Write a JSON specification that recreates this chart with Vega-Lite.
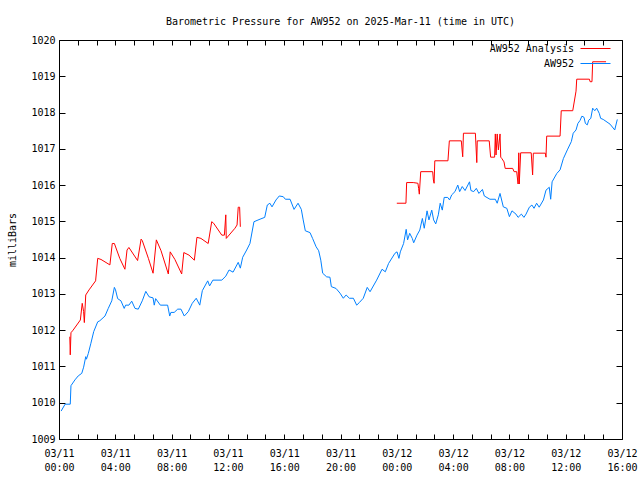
{
  "$schema": "https://vega.github.io/schema/vega-lite/v6.json",
  "width": 563,
  "height": 399,
  "autosize": {"type": "none"},
  "padding": {"left": 59, "top": 40, "right": 18, "bottom": 41},
  "background": "white",
  "title": {"text": "Barometric Pressure for AW952 on 2025-Mar-11 (time in UTC)", "anchor": "middle", "font": "DejaVu Sans Mono", "fontSize": 10, "fontWeight": "normal", "offset": 8, "color": "black"},
  "config": {
    "font": "DejaVu Sans Mono",
    "view": {"stroke": "black", "strokeWidth": 1},
    "axis": {"grid": false, "domain": false, "ticks": true, "zindex": 1, "tickColor": "#000000", "tickWidth": 1, "tickOpacity": 1, "labelColor": "black", "titleColor": "black", "labelFont": "DejaVu Sans Mono", "labelFontSize": 10, "titleFont": "DejaVu Sans Mono", "titleFontSize": 10, "titleFontWeight": "normal"}
  },
  "data": {"values": [
    {"s":"AW952","p":"b","t":"2025-03-11T00:09:00Z","v":1009.77},
    {"s":"AW952","p":"b","t":"2025-03-11T00:26:00Z","v":1009.96},
    {"s":"AW952","p":"b","t":"2025-03-11T00:48:00Z","v":1009.96},
    {"s":"AW952","p":"b","t":"2025-03-11T00:51:00Z","v":1010.47},
    {"s":"AW952","p":"b","t":"2025-03-11T01:08:00Z","v":1010.63},
    {"s":"AW952","p":"b","t":"2025-03-11T01:22:00Z","v":1010.74},
    {"s":"AW952","p":"b","t":"2025-03-11T01:37:00Z","v":1010.81},
    {"s":"AW952","p":"b","t":"2025-03-11T01:45:00Z","v":1010.98},
    {"s":"AW952","p":"b","t":"2025-03-11T01:54:00Z","v":1011.27},
    {"s":"AW952","p":"b","t":"2025-03-11T01:57:00Z","v":1011.20},
    {"s":"AW952","p":"b","t":"2025-03-11T02:05:00Z","v":1011.36},
    {"s":"AW952","p":"b","t":"2025-03-11T02:16:00Z","v":1011.64},
    {"s":"AW952","p":"b","t":"2025-03-11T02:28:00Z","v":1011.96},
    {"s":"AW952","p":"b","t":"2025-03-11T02:45:00Z","v":1012.23},
    {"s":"AW952","p":"b","t":"2025-03-11T02:54:00Z","v":1012.26},
    {"s":"AW952","p":"b","t":"2025-03-11T03:16:00Z","v":1012.39},
    {"s":"AW952","p":"b","t":"2025-03-11T03:30:00Z","v":1012.60},
    {"s":"AW952","p":"b","t":"2025-03-11T03:45:00Z","v":1012.81},
    {"s":"AW952","p":"b","t":"2025-03-11T03:56:00Z","v":1013.18},
    {"s":"AW952","p":"b","t":"2025-03-11T04:01:00Z","v":1013.11},
    {"s":"AW952","p":"b","t":"2025-03-11T04:10:00Z","v":1012.87},
    {"s":"AW952","p":"b","t":"2025-03-11T04:24:00Z","v":1012.81},
    {"s":"AW952","p":"b","t":"2025-03-11T04:38:00Z","v":1012.60},
    {"s":"AW952","p":"b","t":"2025-03-11T04:44:00Z","v":1012.69},
    {"s":"AW952","p":"b","t":"2025-03-11T04:58:00Z","v":1012.69},
    {"s":"AW952","p":"b","t":"2025-03-11T05:10:00Z","v":1012.80},
    {"s":"AW952","p":"b","t":"2025-03-11T05:24:00Z","v":1012.60},
    {"s":"AW952","p":"b","t":"2025-03-11T05:38:00Z","v":1012.58},
    {"s":"AW952","p":"b","t":"2025-03-11T05:55:00Z","v":1012.81},
    {"s":"AW952","p":"b","t":"2025-03-11T06:10:00Z","v":1013.07},
    {"s":"AW952","p":"b","t":"2025-03-11T06:24:00Z","v":1012.92},
    {"s":"AW952","p":"b","t":"2025-03-11T06:41:00Z","v":1012.89},
    {"s":"AW952","p":"b","t":"2025-03-11T06:46:00Z","v":1012.69},
    {"s":"AW952","p":"b","t":"2025-03-11T06:52:00Z","v":1012.87},
    {"s":"AW952","p":"b","t":"2025-03-11T07:12:00Z","v":1012.69},
    {"s":"AW952","p":"b","t":"2025-03-11T07:43:00Z","v":1012.69},
    {"s":"AW952","p":"b","t":"2025-03-11T07:52:00Z","v":1012.39},
    {"s":"AW952","p":"b","t":"2025-03-11T07:57:00Z","v":1012.49},
    {"s":"AW952","p":"b","t":"2025-03-11T08:11:00Z","v":1012.49},
    {"s":"AW952","p":"b","t":"2025-03-11T08:26:00Z","v":1012.58},
    {"s":"AW952","p":"b","t":"2025-03-11T08:40:00Z","v":1012.58},
    {"s":"AW952","p":"b","t":"2025-03-11T08:54:00Z","v":1012.39},
    {"s":"AW952","p":"b","t":"2025-03-11T09:11:00Z","v":1012.51},
    {"s":"AW952","p":"b","t":"2025-03-11T09:28:00Z","v":1012.74},
    {"s":"AW952","p":"b","t":"2025-03-11T09:45:00Z","v":1012.88},
    {"s":"AW952","p":"b","t":"2025-03-11T10:00:00Z","v":1012.69},
    {"s":"AW952","p":"b","t":"2025-03-11T10:11:00Z","v":1013.09},
    {"s":"AW952","p":"b","t":"2025-03-11T10:34:00Z","v":1013.36},
    {"s":"AW952","p":"b","t":"2025-03-11T10:42:00Z","v":1013.22},
    {"s":"AW952","p":"b","t":"2025-03-11T10:56:00Z","v":1013.38},
    {"s":"AW952","p":"b","t":"2025-03-11T11:34:00Z","v":1013.38},
    {"s":"AW952","p":"b","t":"2025-03-11T11:51:00Z","v":1013.49},
    {"s":"AW952","p":"b","t":"2025-03-11T12:05:00Z","v":1013.66},
    {"s":"AW952","p":"b","t":"2025-03-11T12:22:00Z","v":1013.60},
    {"s":"AW952","p":"b","t":"2025-03-11T12:44:00Z","v":1013.87},
    {"s":"AW952","p":"b","t":"2025-03-11T12:53:00Z","v":1013.71},
    {"s":"AW952","p":"b","t":"2025-03-11T13:03:00Z","v":1014.01},
    {"s":"AW952","p":"b","t":"2025-03-11T13:20:00Z","v":1014.21},
    {"s":"AW952","p":"b","t":"2025-03-11T13:34:00Z","v":1014.39},
    {"s":"AW952","p":"b","t":"2025-03-11T13:51:00Z","v":1014.99},
    {"s":"AW952","p":"b","t":"2025-03-11T14:17:00Z","v":1015.06},
    {"s":"AW952","p":"b","t":"2025-03-11T14:37:00Z","v":1015.11},
    {"s":"AW952","p":"b","t":"2025-03-11T14:48:00Z","v":1015.45},
    {"s":"AW952","p":"b","t":"2025-03-11T14:59:00Z","v":1015.50},
    {"s":"AW952","p":"b","t":"2025-03-11T15:08:00Z","v":1015.40},
    {"s":"AW952","p":"b","t":"2025-03-11T15:25:00Z","v":1015.59},
    {"s":"AW952","p":"b","t":"2025-03-11T15:39:00Z","v":1015.70},
    {"s":"AW952","p":"b","t":"2025-03-11T15:56:00Z","v":1015.68},
    {"s":"AW952","p":"b","t":"2025-03-11T16:05:00Z","v":1015.61},
    {"s":"AW952","p":"b","t":"2025-03-11T16:25:00Z","v":1015.61},
    {"s":"AW952","p":"b","t":"2025-03-11T16:42:00Z","v":1015.33},
    {"s":"AW952","p":"b","t":"2025-03-11T16:59:00Z","v":1015.50},
    {"s":"AW952","p":"b","t":"2025-03-11T17:13:00Z","v":1015.33},
    {"s":"AW952","p":"b","t":"2025-03-11T17:21:00Z","v":1015.04},
    {"s":"AW952","p":"b","t":"2025-03-11T17:30:00Z","v":1014.74},
    {"s":"AW952","p":"b","t":"2025-03-11T17:50:00Z","v":1014.69},
    {"s":"AW952","p":"b","t":"2025-03-11T18:01:00Z","v":1014.53},
    {"s":"AW952","p":"b","t":"2025-03-11T18:16:00Z","v":1014.30},
    {"s":"AW952","p":"b","t":"2025-03-11T18:27:00Z","v":1014.19},
    {"s":"AW952","p":"b","t":"2025-03-11T18:36:00Z","v":1013.93},
    {"s":"AW952","p":"b","t":"2025-03-11T18:44:00Z","v":1013.57},
    {"s":"AW952","p":"b","t":"2025-03-11T19:01:00Z","v":1013.47},
    {"s":"AW952","p":"b","t":"2025-03-11T19:15:00Z","v":1013.46},
    {"s":"AW952","p":"b","t":"2025-03-11T19:21:00Z","v":1013.20},
    {"s":"AW952","p":"b","t":"2025-03-11T19:41:00Z","v":1013.15},
    {"s":"AW952","p":"b","t":"2025-03-11T19:58:00Z","v":1013.02},
    {"s":"AW952","p":"b","t":"2025-03-11T20:12:00Z","v":1012.88},
    {"s":"AW952","p":"b","t":"2025-03-11T20:24:00Z","v":1012.97},
    {"s":"AW952","p":"b","t":"2025-03-11T20:38:00Z","v":1012.88},
    {"s":"AW952","p":"b","t":"2025-03-11T20:55:00Z","v":1012.88},
    {"s":"AW952","p":"b","t":"2025-03-11T21:09:00Z","v":1012.69},
    {"s":"AW952","p":"b","t":"2025-03-11T21:20:00Z","v":1012.76},
    {"s":"AW952","p":"b","t":"2025-03-11T21:37:00Z","v":1012.88},
    {"s":"AW952","p":"b","t":"2025-03-11T21:54:00Z","v":1013.18},
    {"s":"AW952","p":"b","t":"2025-03-11T22:06:00Z","v":1013.06},
    {"s":"AW952","p":"b","t":"2025-03-11T22:34:00Z","v":1013.38},
    {"s":"AW952","p":"b","t":"2025-03-11T22:57:00Z","v":1013.68},
    {"s":"AW952","p":"b","t":"2025-03-11T23:11:00Z","v":1013.61},
    {"s":"AW952","p":"b","t":"2025-03-11T23:25:00Z","v":1013.84},
    {"s":"AW952","p":"b","t":"2025-03-11T23:52:00Z","v":1014.12},
    {"s":"AW952","p":"b","t":"2025-03-12T00:01:00Z","v":1014.16},
    {"s":"AW952","p":"b","t":"2025-03-12T00:09:00Z","v":1013.98},
    {"s":"AW952","p":"b","t":"2025-03-12T00:15:00Z","v":1014.16},
    {"s":"AW952","p":"b","t":"2025-03-12T00:29:00Z","v":1014.39},
    {"s":"AW952","p":"b","t":"2025-03-12T00:40:00Z","v":1014.78},
    {"s":"AW952","p":"b","t":"2025-03-12T00:46:00Z","v":1014.49},
    {"s":"AW952","p":"b","t":"2025-03-12T00:55:00Z","v":1014.67},
    {"s":"AW952","p":"b","t":"2025-03-12T01:06:00Z","v":1014.53},
    {"s":"AW952","p":"b","t":"2025-03-12T01:12:00Z","v":1014.41},
    {"s":"AW952","p":"b","t":"2025-03-12T01:26:00Z","v":1014.62},
    {"s":"AW952","p":"b","t":"2025-03-12T01:38:00Z","v":1014.76},
    {"s":"AW952","p":"b","t":"2025-03-12T01:49:00Z","v":1015.08},
    {"s":"AW952","p":"b","t":"2025-03-12T01:57:00Z","v":1014.81},
    {"s":"AW952","p":"b","t":"2025-03-12T02:09:00Z","v":1015.29},
    {"s":"AW952","p":"b","t":"2025-03-12T02:17:00Z","v":1015.04},
    {"s":"AW952","p":"b","t":"2025-03-12T02:29:00Z","v":1015.31},
    {"s":"AW952","p":"b","t":"2025-03-12T02:37:00Z","v":1015.04},
    {"s":"AW952","p":"b","t":"2025-03-12T02:46:00Z","v":1014.93},
    {"s":"AW952","p":"b","t":"2025-03-12T02:57:00Z","v":1015.18},
    {"s":"AW952","p":"b","t":"2025-03-12T03:05:00Z","v":1015.50},
    {"s":"AW952","p":"b","t":"2025-03-12T03:14:00Z","v":1015.31},
    {"s":"AW952","p":"b","t":"2025-03-12T03:22:00Z","v":1015.66},
    {"s":"AW952","p":"b","t":"2025-03-12T03:37:00Z","v":1015.66},
    {"s":"AW952","p":"b","t":"2025-03-12T03:45:00Z","v":1015.59},
    {"s":"AW952","p":"b","t":"2025-03-12T03:54:00Z","v":1015.73},
    {"s":"AW952","p":"b","t":"2025-03-12T04:08:00Z","v":1015.82},
    {"s":"AW952","p":"b","t":"2025-03-12T04:20:00Z","v":1016.00},
    {"s":"AW952","p":"b","t":"2025-03-12T04:28:00Z","v":1015.82},
    {"s":"AW952","p":"b","t":"2025-03-12T04:39:00Z","v":1015.96},
    {"s":"AW952","p":"b","t":"2025-03-12T04:51:00Z","v":1015.85},
    {"s":"AW952","p":"b","t":"2025-03-12T05:10:00Z","v":1016.09},
    {"s":"AW952","p":"b","t":"2025-03-12T05:16:00Z","v":1015.85},
    {"s":"AW952","p":"b","t":"2025-03-12T05:28:00Z","v":1015.82},
    {"s":"AW952","p":"b","t":"2025-03-12T05:39:00Z","v":1015.91},
    {"s":"AW952","p":"b","t":"2025-03-12T05:50:00Z","v":1015.77},
    {"s":"AW952","p":"b","t":"2025-03-12T06:05:00Z","v":1015.88},
    {"s":"AW952","p":"b","t":"2025-03-12T06:13:00Z","v":1015.70},
    {"s":"AW952","p":"b","t":"2025-03-12T06:37:00Z","v":1015.61},
    {"s":"AW952","p":"b","t":"2025-03-12T07:00:00Z","v":1015.61},
    {"s":"AW952","p":"b","t":"2025-03-12T07:08:00Z","v":1015.50},
    {"s":"AW952","p":"b","t":"2025-03-12T07:20:00Z","v":1015.77},
    {"s":"AW952","p":"b","t":"2025-03-12T07:34:00Z","v":1015.40},
    {"s":"AW952","p":"b","t":"2025-03-12T07:49:00Z","v":1015.36},
    {"s":"AW952","p":"b","t":"2025-03-12T08:00:00Z","v":1015.13},
    {"s":"AW952","p":"b","t":"2025-03-12T08:11:00Z","v":1015.29},
    {"s":"AW952","p":"b","t":"2025-03-12T08:28:00Z","v":1015.20},
    {"s":"AW952","p":"b","t":"2025-03-12T08:37:00Z","v":1015.11},
    {"s":"AW952","p":"b","t":"2025-03-12T08:51:00Z","v":1015.20},
    {"s":"AW952","p":"b","t":"2025-03-12T09:02:00Z","v":1015.11},
    {"s":"AW952","p":"b","t":"2025-03-12T09:11:00Z","v":1015.20},
    {"s":"AW952","p":"b","t":"2025-03-12T09:25:00Z","v":1015.39},
    {"s":"AW952","p":"b","t":"2025-03-12T09:36:00Z","v":1015.45},
    {"s":"AW952","p":"b","t":"2025-03-12T09:45:00Z","v":1015.36},
    {"s":"AW952","p":"b","t":"2025-03-12T09:56:00Z","v":1015.50},
    {"s":"AW952","p":"b","t":"2025-03-12T10:07:00Z","v":1015.39},
    {"s":"AW952","p":"b","t":"2025-03-12T10:25:00Z","v":1015.59},
    {"s":"AW952","p":"b","t":"2025-03-12T10:36:00Z","v":1015.86},
    {"s":"AW952","p":"b","t":"2025-03-12T10:50:00Z","v":1015.94},
    {"s":"AW952","p":"b","t":"2025-03-12T10:56:00Z","v":1015.61},
    {"s":"AW952","p":"b","t":"2025-03-12T11:02:00Z","v":1016.09},
    {"s":"AW952","p":"b","t":"2025-03-12T11:22:00Z","v":1016.32},
    {"s":"AW952","p":"b","t":"2025-03-12T11:36:00Z","v":1016.42},
    {"s":"AW952","p":"b","t":"2025-03-12T11:50:00Z","v":1016.73},
    {"s":"AW952","p":"b","t":"2025-03-12T12:07:00Z","v":1016.97},
    {"s":"AW952","p":"b","t":"2025-03-12T12:24:00Z","v":1017.20},
    {"s":"AW952","p":"b","t":"2025-03-12T12:32:00Z","v":1017.43},
    {"s":"AW952","p":"b","t":"2025-03-12T12:44:00Z","v":1017.52},
    {"s":"AW952","p":"b","t":"2025-03-12T12:52:00Z","v":1017.70},
    {"s":"AW952","p":"b","t":"2025-03-12T13:01:00Z","v":1017.78},
    {"s":"AW952","p":"b","t":"2025-03-12T13:09:00Z","v":1017.90},
    {"s":"AW952","p":"b","t":"2025-03-12T13:18:00Z","v":1017.87},
    {"s":"AW952","p":"b","t":"2025-03-12T13:24:00Z","v":1017.70},
    {"s":"AW952","p":"b","t":"2025-03-12T13:32:00Z","v":1017.66},
    {"s":"AW952","p":"b","t":"2025-03-12T13:38:00Z","v":1017.79},
    {"s":"AW952","p":"b","t":"2025-03-12T13:47:00Z","v":1017.84},
    {"s":"AW952","p":"b","t":"2025-03-12T13:55:00Z","v":1018.12},
    {"s":"AW952","p":"b","t":"2025-03-12T14:04:00Z","v":1018.05},
    {"s":"AW952","p":"b","t":"2025-03-12T14:12:00Z","v":1018.12},
    {"s":"AW952","p":"b","t":"2025-03-12T14:23:00Z","v":1017.98},
    {"s":"AW952","p":"b","t":"2025-03-12T14:29:00Z","v":1017.84},
    {"s":"AW952","p":"b","t":"2025-03-12T14:40:00Z","v":1017.81},
    {"s":"AW952","p":"b","t":"2025-03-12T15:09:00Z","v":1017.68},
    {"s":"AW952","p":"b","t":"2025-03-12T15:29:00Z","v":1017.52},
    {"s":"AW952","p":"b","t":"2025-03-12T15:40:00Z","v":1017.81},
    {"s":"AW952 Analysis","p":"r1","t":"2025-03-11T00:46:00Z","v":1011.82},
    {"s":"AW952 Analysis","p":"r1","t":"2025-03-11T00:47:00Z","v":1011.59},
    {"s":"AW952 Analysis","p":"r1","t":"2025-03-11T00:48:00Z","v":1011.32},
    {"s":"AW952 Analysis","p":"r1","t":"2025-03-11T00:51:00Z","v":1011.93},
    {"s":"AW952 Analysis","p":"r1","t":"2025-03-11T01:00:00Z","v":1012.00},
    {"s":"AW952 Analysis","p":"r1","t":"2025-03-11T01:31:00Z","v":1012.28},
    {"s":"AW952 Analysis","p":"r1","t":"2025-03-11T01:39:00Z","v":1012.74},
    {"s":"AW952 Analysis","p":"r1","t":"2025-03-11T01:45:00Z","v":1012.51},
    {"s":"AW952 Analysis","p":"r1","t":"2025-03-11T01:48:00Z","v":1012.21},
    {"s":"AW952 Analysis","p":"r1","t":"2025-03-11T01:54:00Z","v":1012.97},
    {"s":"AW952 Analysis","p":"r1","t":"2025-03-11T02:08:00Z","v":1013.11},
    {"s":"AW952 Analysis","p":"r1","t":"2025-03-11T02:36:00Z","v":1013.36},
    {"s":"AW952 Analysis","p":"r1","t":"2025-03-11T02:45:00Z","v":1013.98},
    {"s":"AW952 Analysis","p":"r1","t":"2025-03-11T02:59:00Z","v":1013.95},
    {"s":"AW952 Analysis","p":"r1","t":"2025-03-11T03:37:00Z","v":1013.80},
    {"s":"AW952 Analysis","p":"r1","t":"2025-03-11T03:47:00Z","v":1014.39},
    {"s":"AW952 Analysis","p":"r1","t":"2025-03-11T03:56:00Z","v":1014.39},
    {"s":"AW952 Analysis","p":"r1","t":"2025-03-11T04:19:00Z","v":1013.98},
    {"s":"AW952 Analysis","p":"r1","t":"2025-03-11T04:41:00Z","v":1013.68},
    {"s":"AW952 Analysis","p":"r1","t":"2025-03-11T04:50:00Z","v":1014.21},
    {"s":"AW952 Analysis","p":"r1","t":"2025-03-11T04:58:00Z","v":1014.28},
    {"s":"AW952 Analysis","p":"r1","t":"2025-03-11T05:35:00Z","v":1013.92},
    {"s":"AW952 Analysis","p":"r1","t":"2025-03-11T05:50:00Z","v":1014.51},
    {"s":"AW952 Analysis","p":"r1","t":"2025-03-11T05:55:00Z","v":1014.47},
    {"s":"AW952 Analysis","p":"r1","t":"2025-03-11T06:21:00Z","v":1013.98},
    {"s":"AW952 Analysis","p":"r1","t":"2025-03-11T06:41:00Z","v":1013.57},
    {"s":"AW952 Analysis","p":"r1","t":"2025-03-11T06:55:00Z","v":1014.49},
    {"s":"AW952 Analysis","p":"r1","t":"2025-03-11T07:15:00Z","v":1014.19},
    {"s":"AW952 Analysis","p":"r1","t":"2025-03-11T07:46:00Z","v":1013.55},
    {"s":"AW952 Analysis","p":"r1","t":"2025-03-11T07:54:00Z","v":1014.16},
    {"s":"AW952 Analysis","p":"r1","t":"2025-03-11T08:14:00Z","v":1013.95},
    {"s":"AW952 Analysis","p":"r1","t":"2025-03-11T08:43:00Z","v":1013.55},
    {"s":"AW952 Analysis","p":"r1","t":"2025-03-11T08:52:00Z","v":1014.14},
    {"s":"AW952 Analysis","p":"r1","t":"2025-03-11T09:14:00Z","v":1014.07},
    {"s":"AW952 Analysis","p":"r1","t":"2025-03-11T09:37:00Z","v":1013.93},
    {"s":"AW952 Analysis","p":"r1","t":"2025-03-11T09:48:00Z","v":1014.56},
    {"s":"AW952 Analysis","p":"r1","t":"2025-03-11T10:05:00Z","v":1014.53},
    {"s":"AW952 Analysis","p":"r1","t":"2025-03-11T10:36:00Z","v":1014.39},
    {"s":"AW952 Analysis","p":"r1","t":"2025-03-11T10:51:00Z","v":1014.99},
    {"s":"AW952 Analysis","p":"r1","t":"2025-03-11T10:59:00Z","v":1014.95},
    {"s":"AW952 Analysis","p":"r1","t":"2025-03-11T11:34:00Z","v":1014.62},
    {"s":"AW952 Analysis","p":"r1","t":"2025-03-11T11:45:00Z","v":1014.62},
    {"s":"AW952 Analysis","p":"r1","t":"2025-03-11T11:51:00Z","v":1015.18},
    {"s":"AW952 Analysis","p":"r1","t":"2025-03-11T11:53:00Z","v":1014.53},
    {"s":"AW952 Analysis","p":"r1","t":"2025-03-11T12:30:00Z","v":1014.81},
    {"s":"AW952 Analysis","p":"r1","t":"2025-03-11T12:39:00Z","v":1014.90},
    {"s":"AW952 Analysis","p":"r1","t":"2025-03-11T12:44:00Z","v":1015.39},
    {"s":"AW952 Analysis","p":"r1","t":"2025-03-11T12:50:00Z","v":1015.39},
    {"s":"AW952 Analysis","p":"r1","t":"2025-03-11T12:53:00Z","v":1014.85},
    {"s":"AW952 Analysis","p":"r2","t":"2025-03-12T00:00:00Z","v":1015.50},
    {"s":"AW952 Analysis","p":"r2","t":"2025-03-12T00:39:00Z","v":1015.50},
    {"s":"AW952 Analysis","p":"r2","t":"2025-03-12T00:42:00Z","v":1016.07},
    {"s":"AW952 Analysis","p":"r2","t":"2025-03-12T01:10:00Z","v":1016.07},
    {"s":"AW952 Analysis","p":"r2","t":"2025-03-12T01:30:00Z","v":1016.05},
    {"s":"AW952 Analysis","p":"r2","t":"2025-03-12T01:33:00Z","v":1015.91},
    {"s":"AW952 Analysis","p":"r2","t":"2025-03-12T01:36:00Z","v":1015.75},
    {"s":"AW952 Analysis","p":"r2","t":"2025-03-12T01:42:00Z","v":1016.37},
    {"s":"AW952 Analysis","p":"r2","t":"2025-03-12T02:33:00Z","v":1016.37},
    {"s":"AW952 Analysis","p":"r2","t":"2025-03-12T02:36:00Z","v":1016.14},
    {"s":"AW952 Analysis","p":"r2","t":"2025-03-12T02:39:00Z","v":1016.05},
    {"s":"AW952 Analysis","p":"r2","t":"2025-03-12T02:42:00Z","v":1016.67},
    {"s":"AW952 Analysis","p":"r2","t":"2025-03-12T03:38:00Z","v":1016.67},
    {"s":"AW952 Analysis","p":"r2","t":"2025-03-12T03:44:00Z","v":1017.22},
    {"s":"AW952 Analysis","p":"r2","t":"2025-03-12T04:35:00Z","v":1017.22},
    {"s":"AW952 Analysis","p":"r2","t":"2025-03-12T04:41:00Z","v":1016.78},
    {"s":"AW952 Analysis","p":"r2","t":"2025-03-12T04:44:00Z","v":1017.43},
    {"s":"AW952 Analysis","p":"r2","t":"2025-03-12T05:35:00Z","v":1017.43},
    {"s":"AW952 Analysis","p":"r2","t":"2025-03-12T05:41:00Z","v":1016.62},
    {"s":"AW952 Analysis","p":"r2","t":"2025-03-12T05:43:00Z","v":1017.22},
    {"s":"AW952 Analysis","p":"r2","t":"2025-03-12T06:34:00Z","v":1017.22},
    {"s":"AW952 Analysis","p":"r2","t":"2025-03-12T06:40:00Z","v":1016.77},
    {"s":"AW952 Analysis","p":"r2","t":"2025-03-12T06:57:00Z","v":1016.77},
    {"s":"AW952 Analysis","p":"r2","t":"2025-03-12T07:00:00Z","v":1017.41},
    {"s":"AW952 Analysis","p":"r2","t":"2025-03-12T07:03:00Z","v":1016.83},
    {"s":"AW952 Analysis","p":"r2","t":"2025-03-12T07:08:00Z","v":1017.41},
    {"s":"AW952 Analysis","p":"r2","t":"2025-03-12T07:13:00Z","v":1016.97},
    {"s":"AW952 Analysis","p":"r2","t":"2025-03-12T07:20:00Z","v":1017.41},
    {"s":"AW952 Analysis","p":"r2","t":"2025-03-12T07:23:00Z","v":1016.77},
    {"s":"AW952 Analysis","p":"r2","t":"2025-03-12T07:28:00Z","v":1016.73},
    {"s":"AW952 Analysis","p":"r2","t":"2025-03-12T07:37:00Z","v":1016.64},
    {"s":"AW952 Analysis","p":"r2","t":"2025-03-12T07:42:00Z","v":1016.46},
    {"s":"AW952 Analysis","p":"r2","t":"2025-03-12T08:14:00Z","v":1016.46},
    {"s":"AW952 Analysis","p":"r2","t":"2025-03-12T08:20:00Z","v":1016.37},
    {"s":"AW952 Analysis","p":"r2","t":"2025-03-12T08:31:00Z","v":1016.37},
    {"s":"AW952 Analysis","p":"r2","t":"2025-03-12T08:37:00Z","v":1016.03},
    {"s":"AW952 Analysis","p":"r2","t":"2025-03-12T08:40:00Z","v":1016.89},
    {"s":"AW952 Analysis","p":"r2","t":"2025-03-12T08:42:00Z","v":1016.03},
    {"s":"AW952 Analysis","p":"r2","t":"2025-03-12T08:48:00Z","v":1016.89},
    {"s":"AW952 Analysis","p":"r2","t":"2025-03-12T09:33:00Z","v":1016.89},
    {"s":"AW952 Analysis","p":"r2","t":"2025-03-12T09:39:00Z","v":1016.28},
    {"s":"AW952 Analysis","p":"r2","t":"2025-03-12T09:42:00Z","v":1016.88},
    {"s":"AW952 Analysis","p":"r2","t":"2025-03-12T10:33:00Z","v":1016.88},
    {"s":"AW952 Analysis","p":"r2","t":"2025-03-12T10:36:00Z","v":1016.77},
    {"s":"AW952 Analysis","p":"r2","t":"2025-03-12T10:39:00Z","v":1017.35},
    {"s":"AW952 Analysis","p":"r2","t":"2025-03-12T11:36:00Z","v":1017.35},
    {"s":"AW952 Analysis","p":"r2","t":"2025-03-12T11:41:00Z","v":1018.05},
    {"s":"AW952 Analysis","p":"r2","t":"2025-03-12T12:30:00Z","v":1018.05},
    {"s":"AW952 Analysis","p":"r2","t":"2025-03-12T12:44:00Z","v":1018.59},
    {"s":"AW952 Analysis","p":"r2","t":"2025-03-12T12:47:00Z","v":1018.92},
    {"s":"AW952 Analysis","p":"r2","t":"2025-03-12T13:41:00Z","v":1018.92},
    {"s":"AW952 Analysis","p":"r2","t":"2025-03-12T13:44:00Z","v":1018.85},
    {"s":"AW952 Analysis","p":"r2","t":"2025-03-12T13:52:00Z","v":1018.85},
    {"s":"AW952 Analysis","p":"r2","t":"2025-03-12T13:55:00Z","v":1019.40},
    {"s":"AW952 Analysis","p":"r2","t":"2025-03-12T14:52:00Z","v":1019.40}
  ]},
  "layer": [
    {
      "mark": {"type": "line", "strokeWidth": 1},
      "encoding": {
        "x": {"field": "t", "type": "temporal",
          "scale": {"type": "utc", "domain": [{"year": 2025, "month": 3, "date": 11, "hours": 0, "utc": true}, {"year": 2025, "month": 3, "date": 12, "hours": 16, "utc": true}], "nice": false},
          "axis": {"orient": "bottom", "title": null, "offset": -5, "tickSize": 5, "labelPadding": 9, "labelLineHeight": 14, "labelBaseline": "top", "labelFlush": false, "labelOverlap": false,
            "values": [1741651200000,1741656000000,1741660800000,1741665600000,1741670400000,1741675200000,1741680000000,1741684800000,1741689600000,1741694400000,1741699200000,1741704000000,1741708800000,1741713600000,1741718400000,1741723200000,1741728000000,1741732800000,1741737600000,1741742400000,1741747200000,1741752000000,1741756800000,1741761600000,1741766400000,1741771200000,1741776000000,1741780800000,1741785600000,1741790400000,1741795200000],
            "labelExpr": "(utchours(datum.value) % 4 == 0 && utcminutes(datum.value) == 0) ? [utcFormat(datum.value, '%m/%d'), utcFormat(datum.value, '%H:%M')] : ''"}},
        "y": {"field": "v", "type": "quantitative",
          "scale": {"domain": [1009, 1020], "nice": false, "zero": false},
          "axis": {"orient": "left", "title": "milliBars", "offset": -6, "tickSize": 6, "labelPadding": 4, "titlePadding": 13, "tickCount": 11, "labelFlush": false, "labelOverlap": false, "format": "d"}},
        "color": {"field": "s", "type": "nominal",
          "scale": {"domain": ["AW952 Analysis", "AW952"], "range": ["#ff0000", "#0080ff"]},
          "legend": {"title": null, "orient": "none", "legendX": 531, "legendY": 3, "padding": 0, "rowPadding": 4, "symbolType": "M-3,0H3", "symbolSize": 100, "symbolStrokeWidth": 1, "labelAlign": "right", "labelOffset": -27, "labelFontSize": 10, "labelFont": "DejaVu Sans Mono", "labelColor": "black"}},
        "detail": {"field": "p", "type": "nominal"}
      }
    },
    {
      "mark": {"type": "line", "strokeOpacity": 0},
      "encoding": {
        "x": {"field": "t", "type": "temporal",
          "axis": {"orient": "top", "title": null, "labels": false, "offset": -5, "tickSize": 5,
            "values": [1741651200000,1741656000000,1741660800000,1741665600000,1741670400000,1741675200000,1741680000000,1741684800000,1741689600000,1741694400000,1741699200000,1741704000000,1741708800000,1741713600000,1741718400000,1741723200000,1741728000000,1741732800000,1741737600000,1741742400000,1741747200000,1741752000000,1741756800000,1741761600000,1741766400000,1741771200000,1741776000000,1741780800000,1741785600000,1741790400000,1741795200000]}},
        "y": {"field": "v", "type": "quantitative",
          "axis": {"orient": "right", "title": null, "labels": false, "offset": -6, "tickSize": 6, "tickCount": 11}},
        "detail": {"field": "p", "type": "nominal"}
      }
    }
  ],
  "resolve": {"axis": {"x": "independent", "y": "independent"}}
}
